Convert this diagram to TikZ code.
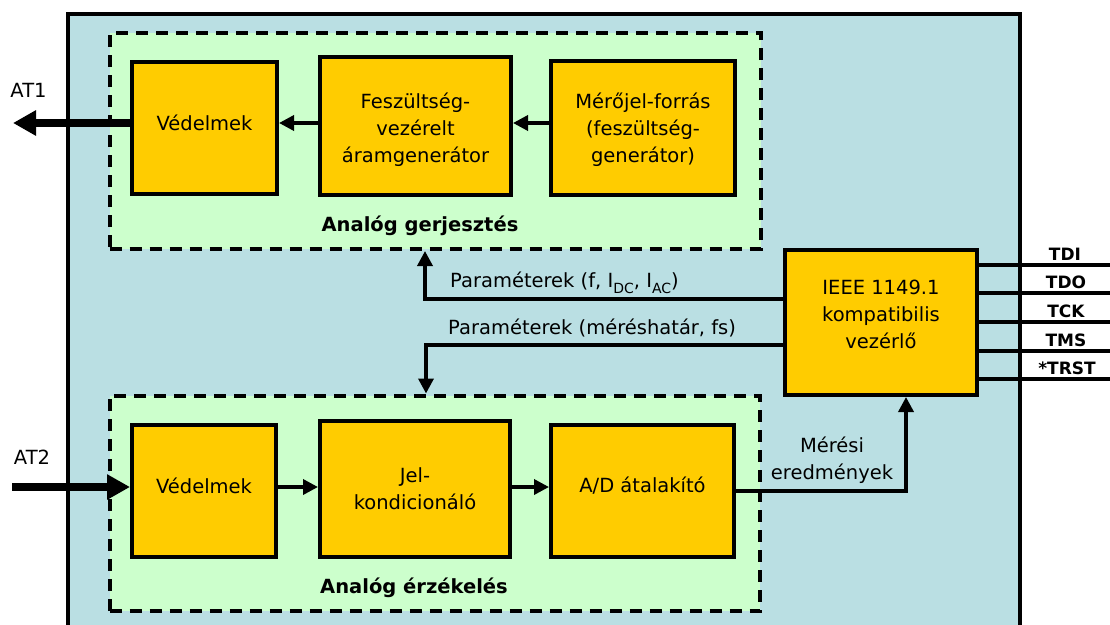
\documentclass[tikz,border=0pt]{standalone}
\usepackage{fontspec}
\setmainfont{DejaVu Sans}
\usetikzlibrary{arrows.meta}
\definecolor{panelblue}{HTML}{BADFE3}
\definecolor{zonegreen}{HTML}{CCFFCC}
\definecolor{blockgold}{HTML}{FFCC00}
\newcommand\lowidx[1]{\raisebox{-6pt}{\fontsize{14}{14}\selectfont #1}}
\begin{document}
\begin{tikzpicture}[x=1pt,y=-1pt,
  txt/.style={font=\fontsize{19.5}{27}\selectfont, align=center, inner sep=0pt},
  hdr/.style={font=\bfseries\fontsize{19.5}{27}\selectfont, inner sep=0pt, anchor=base},
  pin/.style={font=\bfseries\fontsize{17}{20}\selectfont, inner sep=0pt, anchor=base},
  blk/.style={draw=black, line width=4pt, fill=blockgold, inner sep=0pt},
  zone/.style={draw=black, line width=4pt, fill=zonegreen, dash pattern=on 12pt off 8pt, inner sep=0pt},
  conn/.style={line width=3.5pt, -{Triangle[length=15pt,width=15pt]}},
  wire/.style={line width=3.5pt},
  port/.style={line width=8pt, -{Triangle[length=23pt,width=24pt]}}]

\useasboundingbox (0,0) rectangle (1110,624);
\clip (0,0) rectangle (1110,624);

% chip outline
\draw[line width=4pt, fill=panelblue] (68,14) rectangle (1020,660);

% functional zones
\node[zone, minimum width=651pt, minimum height=216pt] (gen) at (435,141) {};
\node[zone, minimum width=650.5pt, minimum height=215.5pt] (sens) at (434.75,503.25) {};
\node[hdr] (gent) at (420,231) {Analóg gerjesztés};
\node[hdr] (senst) at (414,593) {Analóg érzékelés};

% blocks
\node[blk, minimum width=145pt, minimum height=132pt] (v1) at (204.5,128) {};
\node[blk, minimum width=191pt, minimum height=138pt] (fg) at (415.5,126) {};
\node[blk, minimum width=184pt, minimum height=134pt] (src) at (643,128) {};
\node[blk, minimum width=144pt, minimum height=132pt] (v2) at (204,491) {};
\node[blk, minimum width=190pt, minimum height=136pt] (jk) at (415,489) {};
\node[blk, minimum width=183pt, minimum height=132pt] (adc) at (642.5,491) {};
\node[blk, minimum width=192pt, minimum height=145pt] (jtag) at (881,322.5) {};

% block captions
\node[txt, anchor=base] (v1t) at (204.5,130) {Védelmek};
\node[txt] (fgt) at (415.5,130) {Feszültség-\\vezérelt\\áramgenerátor};
\node[txt] (srct) at (643,130) {Mérőjel-forrás\\(feszültség-\\generátor)};
\node[txt, anchor=base] (v2t) at (204,493) {Védelmek};
\node[txt] (jkt) at (415,489) {Jel-\\kondicionáló};
\node[txt, anchor=base] (adct) at (642.5,492) {A/D átalakító};
\node[txt] (jtagt) at (881,314) {IEEE 1149.1\\kompatibilis\\vezérlő};

% routing helpers
\coordinate (rowA) at (0,123);
\coordinate (rowB) at (0,487);
\coordinate (parA) at (0,299);
\coordinate (parB) at (0,345);
\coordinate (colA) at (425,0);
\coordinate (colB) at (426,0);
\coordinate (colC) at (906,0);
\coordinate (at1) at (13,123);
\coordinate (at2) at (12,487);

% signal chain
\draw[conn] (src.west |- rowA) -- (fg.east |- rowA);
\draw[conn] (fg.west |- rowA) -- (v1.east |- rowA);
\draw[conn] (v2.east |- rowB) -- (jk.west |- rowB);
\draw[conn] (jk.east |- rowB) -- (adc.west |- rowB);

% analog terminals
\draw[port] (v1.west |- rowA) -- (at1);
\draw[port] (at2) -- (v2.west |- rowB);
\node[txt] (at1l) at (28.5,90) {AT1};
\node[txt] (at2l) at (32,457.5) {AT2};

% controller links
\draw[conn] (jtag.west |- parA) -| (gen.south -| colA);
\draw[conn] (jtag.west |- parB) -| (sens.north -| colB);
\draw[conn] (adc.east) -| (jtag.south -| colC);
\node[txt, anchor=base west] (parAt) at (450,287) {Paraméterek (f, I\lowidx{DC}, I\lowidx{AC})};
\node[txt, anchor=base west] (parBt) at (448,334) {Paraméterek (méréshatár, fs)};
\node[txt] (rest) at (832,460) {Mérési\\eredmények};

% JTAG pins
\coordinate (tdiend) at (1110,265);
\coordinate (tdoend) at (1110,293);
\coordinate (tckend) at (1110,322);
\coordinate (tmsend) at (1110,351);
\coordinate (trstend) at (1110,379);
\draw[wire] (jtag.east |- tdiend) -- (tdiend);
\draw[wire] (jtag.east |- tdoend) -- (tdoend);
\draw[wire] (jtag.east |- tckend) -- (tckend);
\draw[wire] (jtag.east |- tmsend) -- (tmsend);
\draw[wire] (jtag.east |- trstend) -- (trstend);
\node[pin] (tdi) at (1065,260) {TDI};
\node[pin] (tdo) at (1066,288) {TDO};
\node[pin] (tck) at (1066,317) {TCK};
\node[pin] (tms) at (1066,346) {TMS};
\node[pin] (trst) at (1067,374) {*TRST};
\end{tikzpicture}
\end{document}
